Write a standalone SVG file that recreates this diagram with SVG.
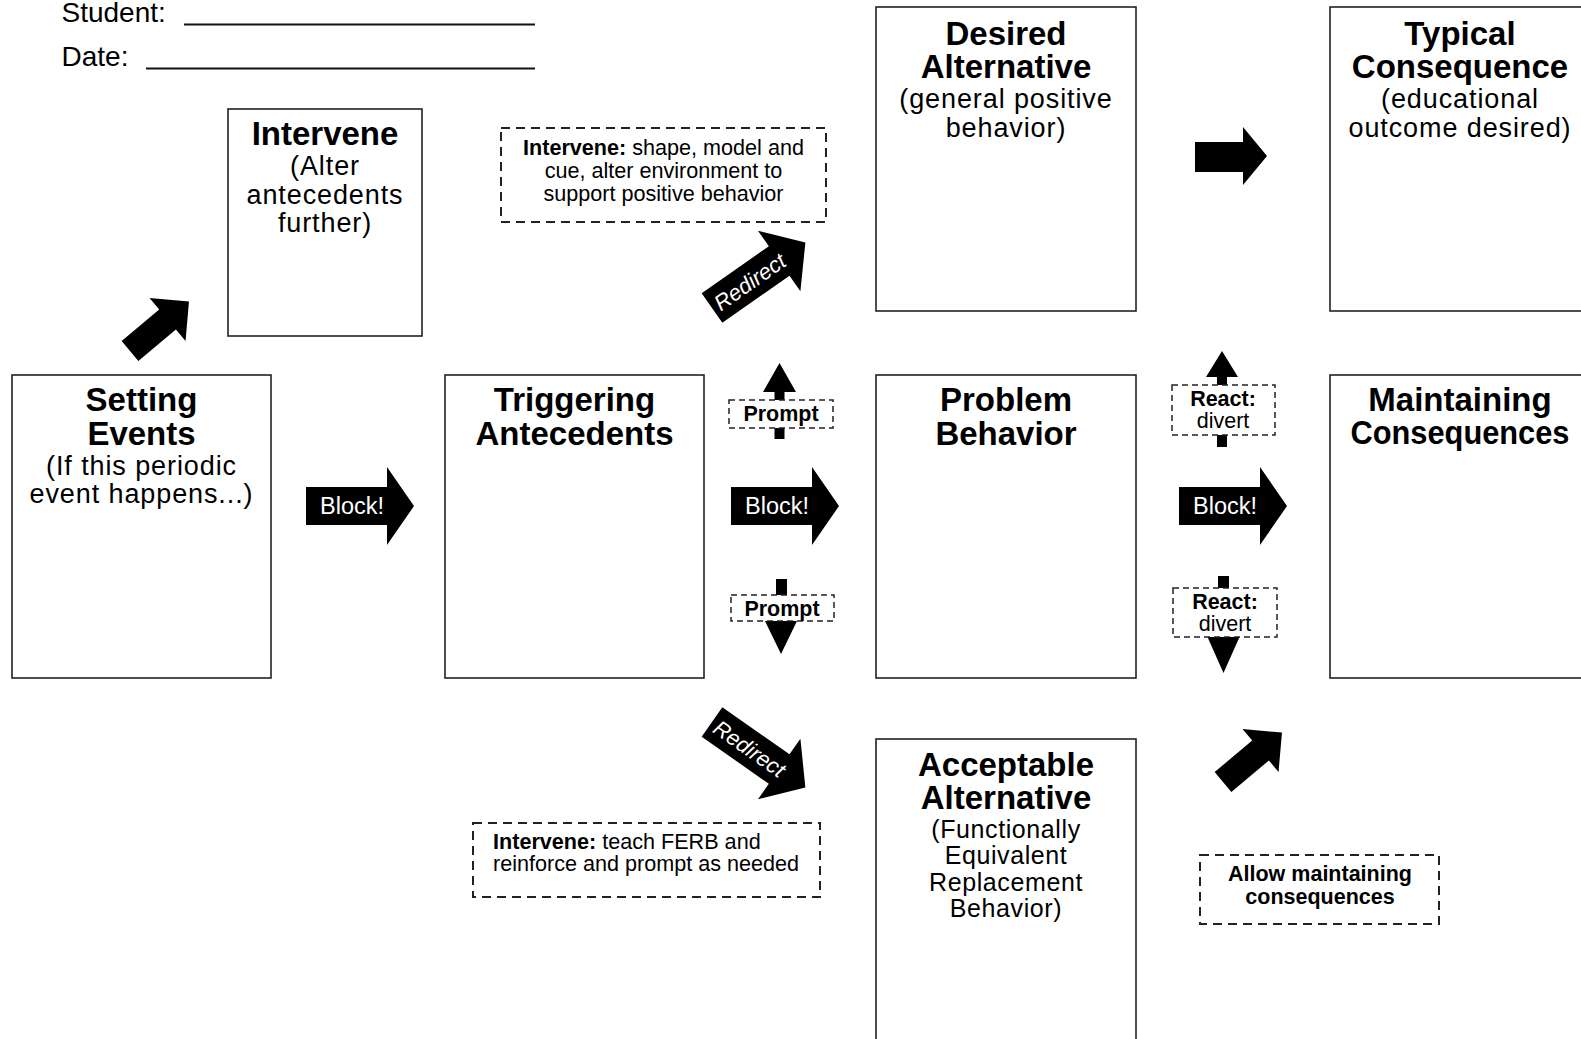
<svg xmlns="http://www.w3.org/2000/svg" width="1581" height="1039" viewBox="0 0 1581 1039">
<style>
text{font-family:"Liberation Sans",Arial,Helvetica,sans-serif;fill:#000}
.box{fill:#fff;stroke:#222;stroke-width:1.6}
.dash{fill:#fff;stroke:#222;stroke-width:2;stroke-dasharray:9 6}
.sdash{fill:#fff;stroke:#222;stroke-width:1.5;stroke-dasharray:6 4}
.title{font-size:33px;font-weight:bold;text-anchor:middle}
.sub{font-size:27px;letter-spacing:0.9px;text-anchor:middle}
.sub2{font-size:25px;letter-spacing:0.6px;text-anchor:middle}
.small{font-size:21.6px}
.lbl{font-size:21.5px;text-anchor:middle}
.b{font-weight:bold}
.blk{fill:#000}
.wt{fill:#fff;font-size:23.5px;text-anchor:middle}
.redir{fill:#fff;font-size:22px;font-style:italic;text-anchor:middle}
.line{stroke:#111;stroke-width:2}
</style>
<defs>
<polygon id="blockArrow" points="0,-19 81,-19 81,-39 108,0 81,39 81,19 0,19"/>
<polygon id="smallArrow" points="0,-13 49,-13 49,-28 77,0 49,28 49,13 0,13"/>
<polygon id="redirArrow" points="0,-18 82,-18 82,-37 114,0 82,37 82,18 0,18"/>
</defs>

<g id="header">
<text x="61.5" y="22" style="font-size:28px">Student:</text>
<line class="line" x1="184" y1="24.5" x2="535" y2="24.5"/>
<text x="61.5" y="65.5" style="font-size:28px">Date:</text>
<line class="line" x1="146" y1="68.5" x2="535" y2="68.5"/>
</g>

<g id="intervene-antecedents">
<rect class="box" x="228" y="109" width="194" height="227"/>
<text class="title" x="325" y="145">Intervene</text>
<text class="sub" x="325" y="175">(Alter</text>
<text class="sub" x="325" y="204">antecedents</text>
<text class="sub" x="325" y="232">further)</text>
</g>

<g id="setting-events">
<rect class="box" x="12" y="375" width="259" height="303"/>
<text class="title" x="141.5" y="411">Setting</text>
<text class="title" x="141.5" y="445">Events</text>
<text class="sub" x="141.5" y="475">(If this periodic</text>
<text class="sub" x="141.5" y="503">event happens...)</text>
</g>

<g id="triggering-antecedents">
<rect class="box" x="445" y="375" width="259" height="303"/>
<text class="title" x="574.5" y="411">Triggering</text>
<text class="title" x="574.5" y="445">Antecedents</text>
</g>

<g id="desired-alternative">
<rect class="box" x="876" y="7" width="260" height="304"/>
<text class="title" x="1006" y="45">Desired</text>
<text class="title" x="1006" y="78">Alternative</text>
<text class="sub" x="1006" y="108">(general positive</text>
<text class="sub" x="1006" y="137">behavior)</text>
</g>

<g id="problem-behavior">
<rect class="box" x="876" y="375" width="260" height="303"/>
<text class="title" x="1006" y="411">Problem</text>
<text class="title" x="1006" y="445">Behavior</text>
</g>

<g id="acceptable-alternative">
<rect class="box" x="876" y="739" width="260" height="320"/>
<text class="title" x="1006" y="776">Acceptable</text>
<text class="title" x="1006" y="809">Alternative</text>
<text class="sub2" x="1006" y="838">(Functionally</text>
<text class="sub2" x="1006" y="864">Equivalent</text>
<text class="sub2" x="1006" y="891">Replacement</text>
<text class="sub2" x="1006" y="917">Behavior)</text>
</g>

<g id="typical-consequence">
<rect class="box" x="1330" y="7" width="270" height="304"/>
<text class="title" x="1460" y="45">Typical</text>
<text class="title" x="1460" y="78">Consequence</text>
<text class="sub" x="1460" y="108">(educational</text>
<text class="sub" x="1460" y="137">outcome desired)</text>
</g>

<g id="maintaining-consequences">
<rect class="box" x="1330" y="375" width="270" height="303"/>
<text class="title" x="1460" y="411">Maintaining</text>
<text class="title" x="1460" y="444" textLength="219" lengthAdjust="spacingAndGlyphs">Consequences</text>
</g>

<g id="connectors">
<use href="#smallArrow" class="blk" transform="translate(130,351) rotate(-40)"/>
<g transform="translate(306,506)"><use href="#blockArrow" class="blk"/><text class="wt" x="46" y="8">Block!</text></g>
<g transform="translate(731,506)"><use href="#blockArrow" class="blk"/><text class="wt" x="46" y="8">Block!</text></g>
<g transform="translate(1179,506)"><use href="#blockArrow" class="blk"/><text class="wt" x="46" y="8">Block!</text></g>
<polygon class="blk" points="1195,142 1243,142 1243,127 1267,156 1243,185 1243,172 1195,172"/>
<g transform="translate(712,308) rotate(-35)"><use href="#redirArrow" class="blk"/><text class="redir" x="46" y="8">Redirect</text></g>
<g transform="translate(712,722) rotate(35)"><use href="#redirArrow" class="blk"/><text class="redir" x="46" y="8">Redirect</text></g>
<use href="#smallArrow" class="blk" transform="translate(1223,782) rotate(-40)"/>
<polygon class="blk" points="774.5,439 774.5,392 763,392 779.5,363 796,392 784.5,392 784.5,439"/>
<polygon class="blk" points="776,579 787,579 787,621 797,621 781,654 765,621 776,621"/>
<polygon class="blk" points="1217,447 1217,377 1206,377 1222,351 1238,377 1227,377 1227,447"/>
<polygon class="blk" points="1218,576 1229,576 1229,637 1239.5,637 1223.5,673 1207.5,637 1218,637"/>
</g>

<g id="intervene-shape">
<rect class="dash" x="501" y="128" width="325" height="94"/>
<text class="small" x="663.5" y="155" text-anchor="middle"><tspan class="b">Intervene:</tspan> shape, model and</text>
<text class="small" x="663.5" y="177.5" text-anchor="middle">cue, alter environment to</text>
<text class="small" x="663.5" y="200.5" text-anchor="middle">support positive behavior</text>
</g>

<g id="intervene-ferb">
<rect class="dash" x="473" y="823" width="347" height="74"/>
<text class="small" x="493" y="849"><tspan class="b">Intervene:</tspan> teach FERB and</text>
<text class="small" x="493" y="871">reinforce and prompt as needed</text>
</g>

<g id="allow-maintaining">
<rect class="dash" x="1200" y="855" width="239" height="69"/>
<text class="lbl b" x="1320" y="881">Allow maintaining</text>
<text class="lbl b" x="1320" y="903.5">consequences</text>
</g>

<g id="prompt-up">
<rect class="sdash" x="729" y="400" width="104" height="28"/>
<text class="lbl b" x="781" y="421">Prompt</text>
</g>

<g id="prompt-down">
<rect class="sdash" x="731" y="595" width="103" height="26"/>
<text class="lbl b" x="782" y="615.5">Prompt</text>
</g>

<g id="react-up">
<rect class="sdash" x="1172" y="385" width="103" height="50"/>
<text class="lbl b" x="1223" y="406">React:</text>
<text class="lbl" x="1223" y="428">divert</text>
</g>

<g id="react-down">
<rect class="sdash" x="1173" y="588" width="104" height="49"/>
<text class="lbl b" x="1225" y="609">React:</text>
<text class="lbl" x="1225" y="631">divert</text>
</g>
</svg>
